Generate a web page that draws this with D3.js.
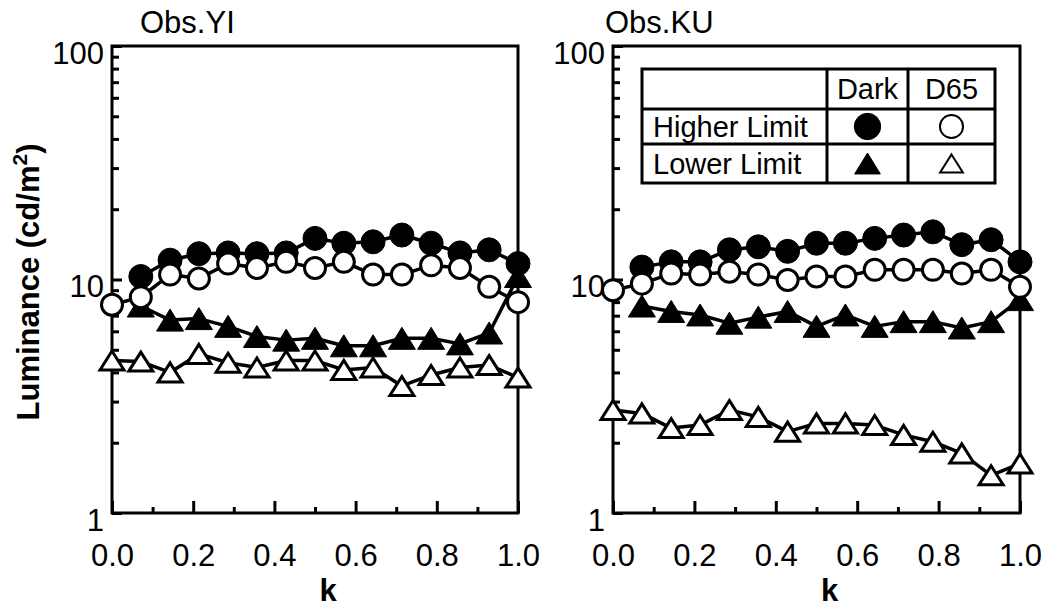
<!DOCTYPE html>
<html>
<head>
<meta charset="utf-8">
<script src="https://cdn.jsdelivr.net/npm/d3@7"></script>
<style>
  body { margin: 0; background: #fff; }
  text { font-family: "Liberation Sans", Arial, Helvetica, sans-serif; fill: #000; }
</style>
</head>
<body>
<script>
// k values (x) shared by both observers
var kValues = [0, 0.071, 0.143, 0.214, 0.286, 0.357, 0.429, 0.5, 0.571, 0.643, 0.714, 0.786, 0.857, 0.929, 1.0];

// Obs.YI
var yiDarkHigh = [null, 10.3, 12.1, 12.9, 13.0, 12.9, 13.0, 15.0, 14.3, 14.5, 15.5, 14.3, 13.0, 13.4, 11.7];
var yiD65High  = [7.8, 8.4, 10.5, 10.1, 11.7, 11.2, 11.9, 11.2, 11.9, 10.5, 10.5, 11.5, 11.2, 9.3, 8.0];
var yiDarkLow  = [null, 7.7, 6.7, 6.8, 6.3, 5.7, 5.5, 5.6, 5.2, 5.2, 5.6, 5.6, 5.3, 5.9, 10.3];
var yiD65Low   = [4.5, 4.45, 4.0, 4.8, 4.4, 4.2, 4.5, 4.5, 4.1, 4.2, 3.5, 3.9, 4.2, 4.3, 3.8];

// Obs.KU
var kuDarkHigh = [null, 11.3, 11.9, 11.9, 13.4, 13.8, 13.2, 14.3, 14.3, 15.0, 15.5, 16.0, 14.1, 14.8, 11.9];
var kuD65High  = [9.0, 9.6, 10.6, 10.5, 10.8, 10.5, 9.95, 10.3, 10.3, 11.0, 11.0, 11.0, 10.6, 11.0, 9.3];
var kuDarkLow  = [null, 7.7, 7.3, 7.05, 6.5, 6.9, 7.3, 6.3, 7.05, 6.3, 6.6, 6.6, 6.2, 6.6, 8.2];
var kuD65Low   = [2.76, 2.67, 2.31, 2.38, 2.76, 2.58, 2.23, 2.42, 2.42, 2.38, 2.16, 2.02, 1.80, 1.45, 1.63];

var xMajorTicks = [0, 0.2, 0.4, 0.6, 0.8, 1.0];
var xMinorTicks = [0.1, 0.3, 0.5, 0.7, 0.9];
var yMajorTicks = [1, 10, 100];
var yMinorTicks = [2, 3, 4, 5, 6, 7, 8, 9, 20, 30, 40, 50, 60, 70, 80, 90];

var legendCols = ["Dark", "D65"];
var legendRows = ["Higher Limit", "Lower Limit"];

var W = 1052, H = 609;
var plotTop = 46, plotBottom = 513;

var panels = [
  { title: "Obs.YI", left: 112, right: 518, titleX: 140, series: { darkHigh: yiDarkHigh, d65High: yiD65High, darkLow: yiDarkLow, d65Low: yiD65Low } },
  { title: "Obs.KU", left: 613, right: 1020, titleX: 605, series: { darkHigh: kuDarkHigh, d65High: kuD65High, darkLow: kuDarkLow, d65Low: kuD65Low } }
];

// draw order: filled first, open on top
var styles = [
  { key: "darkHigh", shape: "circle", open: false },
  { key: "darkLow", shape: "triangle", open: false },
  { key: "d65Low", shape: "triangle", open: true },
  { key: "d65High", shape: "circle", open: true }
];

function markerPath(shape, open, scale) {
  scale = scale || 1;
  if (shape === "circle") {
    var r = (open ? 10.5 : 12) * scale;
    return "M" + r + ",0A" + r + "," + r + " 0 1,1 " + (-r) + ",0A" + r + "," + r + " 0 1,1 " + r + ",0Z";
  }
  var hw = (open ? 12 : 13.5) * scale, h = (open ? 19 : 22) * scale;
  return "M0," + (-h / 2) + "L" + hw + "," + (h / 2) + "L" + (-hw) + "," + (h / 2) + "Z";
}

var svg = d3.select("body").append("svg")
  .attr("width", W).attr("height", H);

panels.forEach(function(p) {
  var x = d3.scaleLinear().domain([0, 1]).range([p.left, p.right]);
  var y = d3.scaleLog().domain([1, 100]).range([plotBottom, plotTop]);
  var g = svg.append("g");

  // minor + major ticks on the bottom axis (inward)
  g.append("g").attr("transform", "translate(0," + plotBottom + ")")
    .call(d3.axisBottom(x).tickValues(xMinorTicks).tickSize(-6).tickFormat(""))
    .call(function(a) { a.select(".domain").remove(); a.selectAll("line").attr("stroke-width", 3); });
  g.append("g").attr("transform", "translate(0," + plotBottom + ")")
    .call(d3.axisBottom(x).tickValues(xMajorTicks).tickSize(-12).tickPadding(31).tickFormat(d3.format(".1f")))
    .call(function(a) {
      a.select(".domain").remove();
      a.selectAll("line").attr("stroke-width", 3);
      a.selectAll("text").attr("font-size", 31).attr("fill", "#000")
        .style("font-family", '"Liberation Sans", Arial, sans-serif');
    });

  // left axis (log), ticks inward
  g.append("g").attr("transform", "translate(" + p.left + ",0)")
    .call(d3.axisLeft(y).tickValues(yMinorTicks).tickSize(-7).tickFormat(""))
    .call(function(a) { a.select(".domain").remove(); a.selectAll("line").attr("stroke-width", 3); });
  g.append("g").attr("transform", "translate(" + p.left + ",0)")
    .call(d3.axisLeft(y).tickValues(yMajorTicks).tickSize(-10).tickPadding(8).tickFormat(d3.format("d")))
    .call(function(a) {
      a.select(".domain").remove();
      a.selectAll("line").attr("stroke-width", 3);
      a.selectAll("text").attr("font-size", 31).attr("dy", "0.55em").attr("fill", "#000")
        .style("font-family", '"Liberation Sans", Arial, sans-serif');
    });

  // frame
  g.append("rect")
    .attr("x", p.left).attr("y", plotTop)
    .attr("width", p.right - p.left).attr("height", plotBottom - plotTop)
    .attr("fill", "none").attr("stroke", "#000").attr("stroke-width", 3);

  // title
  g.append("text").attr("x", p.titleX).attr("y", 33)
    .attr("font-size", 31).text(p.title);

  // x label
  g.append("text").attr("x", (p.left + p.right) / 2 + 13).attr("y", 601)
    .attr("text-anchor", "middle").attr("font-size", 31).attr("font-weight", "bold").text("k");

  // series
  styles.forEach(function(s) {
    var vals = p.series[s.key];
    var pts = kValues.map(function(k, i) { return { k: k, v: vals[i] }; })
      .filter(function(d) { return d.v != null; });
    var line = d3.line().x(function(d) { return x(d.k); }).y(function(d) { return y(d.v); });
    g.append("path").datum(pts)
      .attr("d", line).attr("fill", "none").attr("stroke", "#000")
      .attr("stroke-width", 3.5).attr("stroke-linejoin", "round");
    g.selectAll(null).data(pts).enter().append("path")
      .attr("transform", function(d) { return "translate(" + x(d.k) + "," + y(d.v) + ")"; })
      .attr("d", markerPath(s.shape, s.open))
      .attr("fill", s.open ? "#fff" : "#000")
      .attr("stroke", "#000").attr("stroke-width", s.open ? 3 : 1);
  });
});

// y axis title
svg.append("text")
  .attr("transform", "translate(39,282) rotate(-90)")
  .attr("text-anchor", "middle").attr("font-size", 31).attr("font-weight", "bold")
  .html('Luminance (cd/m<tspan font-size="21" dy="-12">2</tspan><tspan dy="12">)</tspan>');

// legend table
var lg = svg.append("g");
var lx = [642, 827, 908, 995], ly = [69, 109, 144, 183];
lg.append("rect").attr("x", lx[0]).attr("y", ly[0])
  .attr("width", lx[3] - lx[0]).attr("height", ly[3] - ly[0])
  .attr("fill", "#fff").attr("stroke", "#000").attr("stroke-width", 3);
[lx[1], lx[2]].forEach(function(v) {
  lg.append("line").attr("x1", v).attr("x2", v).attr("y1", ly[0]).attr("y2", ly[3])
    .attr("stroke", "#000").attr("stroke-width", 3);
});
[ly[1], ly[2]].forEach(function(v) {
  lg.append("line").attr("x1", lx[0]).attr("x2", lx[3]).attr("y1", v).attr("y2", v)
    .attr("stroke", "#000").attr("stroke-width", 3);
});
legendCols.forEach(function(c, j) {
  lg.append("text").attr("x", (lx[j + 1] + lx[j + 2]) / 2).attr("y", 99)
    .attr("text-anchor", "middle").attr("font-size", 29).text(c);
});
legendRows.forEach(function(r, i) {
  var cy = (ly[i + 1] + ly[i + 2]) / 2;
  lg.append("text").attr("x", 653).attr("y", cy + 10).attr("font-size", 29).text(r);
  legendCols.forEach(function(c, j) {
    var cx = (lx[j + 1] + lx[j + 2]) / 2;
    lg.append("path")
      .attr("transform", "translate(" + cx + "," + cy + ")")
      .attr("d", markerPath(i === 0 ? "circle" : "triangle", j === 1, i === 0 ? 1.1 : 0.95))
      .attr("fill", j === 1 ? "#fff" : "#000")
      .attr("stroke", "#000").attr("stroke-width", j === 1 ? 2 : 1);
  });
});
</script>
</body>
</html>
